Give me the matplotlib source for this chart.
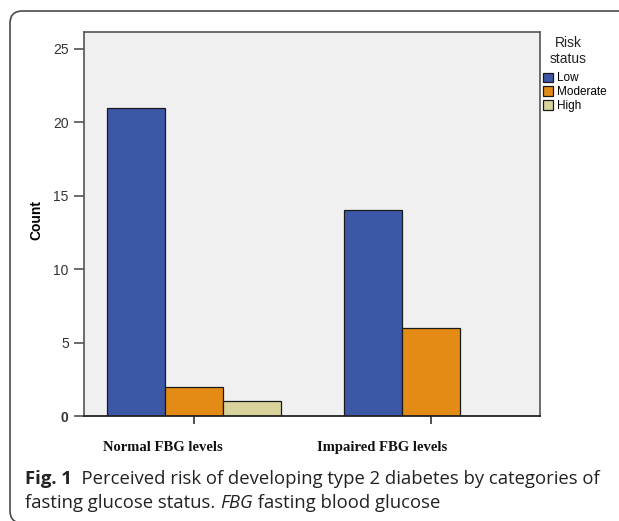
import matplotlib
matplotlib.use("Agg")
import matplotlib.pyplot as plt
import numpy as np
from matplotlib.patches import FancyBboxPatch
from matplotlib.transforms import ScaledTranslation

groups = ["Normal FBG levels", "Impaired FBG levels"]
risk = ["Low", "Moderate", "High"]
counts = {
    "Low": [21, 14],
    "Moderate": [2, 6],
    "High": [1, 0],
}
colors = {"Low": "#3d57a7", "Moderate": "#e38b14", "High": "#d8d49c"}
yticks = [0, 5, 10, 15, 20, 25]

W, H = 619, 521
fig = plt.figure(figsize=(W / 100, H / 100), dpi=100)

# frame around the whole figure panel (right and bottom edges run off the image)
frame = FancyBboxPatch((10 / W, -2 / H), 700 / W, (H - 11 + 2) / H,
                       boxstyle="round,pad=0,rounding_size=0.02",
                       transform=fig.transFigure, fill=False,
                       edgecolor="#4a4a4a", linewidth=1.2, mutation_aspect=W / H)
fig.patches.append(frame)

ax = fig.add_axes([84 / W, (H - 416) / H, (540 - 84) / W, (416 - 32) / H])
ax.set_facecolor("#f0f0f0")

x = np.arange(len(groups))
w = 0.245
for i, r in enumerate(risk):
    ax.bar(x + (i - 1) * w, counts[r], width=w, color=colors[r],
           edgecolor="#1a1a1a", linewidth=0.9, label=r)

ax.set_xlim(-0.464, 1.46)
ax.set_ylim(0, 26.15)
ax.set_yticks(yticks)
ax.set_yticklabels([str(v) for v in yticks], fontsize=10, color="#333333",
                   family="Liberation Sans")
ax.get_yticklabels()[0].set_fontweight("bold")
ax.tick_params(axis="y", length=7, width=1.1, color="#444444", pad=4)

ax.set_xticks(x)
ax.set_xticklabels(groups, family="Liberation Serif", fontweight="bold",
                   fontsize=10.5, color="#111111")
ax.tick_params(axis="x", length=6, width=1.1, color="#222222", pad=12)
for lab, dx in zip(ax.get_xticklabels(), [-31.5, -49]):
    lab.set_transform(lab.get_transform() + ScaledTranslation(dx / 100, 0, fig.dpi_scale_trans))

for s in ["top", "right", "left"]:
    ax.spines[s].set_color("#555555")
    ax.spines[s].set_linewidth(1.2)
ax.spines["bottom"].set_color("#222222")
ax.spines["bottom"].set_linewidth(1.3)

ax.set_ylabel("Count", fontsize=10, fontweight="bold", family="Liberation Sans")
ax.yaxis.set_label_coords(-0.09, 0.51)

# legend title as its own text, legend entries below it
fig.text(568 / W, 1 - 51 / H, "Risk\nstatus", fontsize=10, family="Liberation Sans",
         ha="center", va="center", multialignment="center", color="#222222",
         linespacing=1.15)
leg = ax.legend(loc="upper left",
                bbox_to_anchor=(541 / W, (H - 70) / H), bbox_transform=fig.transFigure,
                frameon=False, prop={"family": "Liberation Sans", "size": 8.5},
                handlelength=0.85, handleheight=0.85, handletextpad=0.3,
                labelspacing=0.15, borderpad=0.2, borderaxespad=0)
for p in leg.get_patches():
    p.set_edgecolor("#1a1a1a")

# caption, built from pieces placed one after another
fig.canvas.draw()
renderer = fig.canvas.get_renderer()


def caption_line(pieces, x0, y0):
    xpos = x0
    for txt, style in pieces:
        t = fig.text(xpos / W, 1 - y0 / H, txt, fontsize=13.3, family="Open Sans",
                     color="#222222", va="baseline", ha="left", **style)
        bb = t.get_window_extent(renderer)
        xpos = bb.x1


caption_line([("Fig. 1", {"fontweight": "bold"}),
              ("  Perceived risk of developing type 2 diabetes by categories of", {})],
             25, 484)
caption_line([("fasting glucose status. ", {}), ("FBG", {"style": "italic"}),
              (" fasting blood glucose", {})], 25, 508)

fig.savefig("out.png", dpi=100)
